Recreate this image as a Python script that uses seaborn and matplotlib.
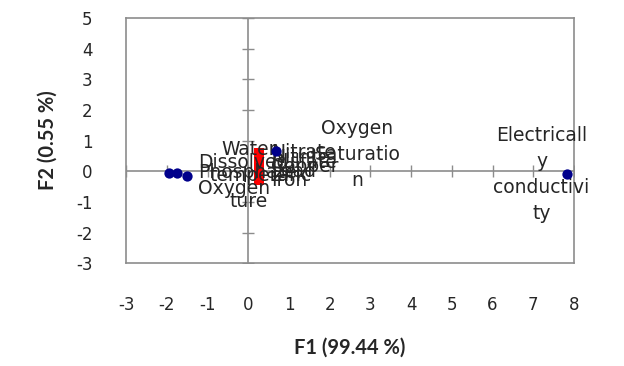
import matplotlib
matplotlib.use("Agg")
import matplotlib.pyplot as plt
import seaborn as sns
import pandas as pd

# active variables (blue) and supplementary variables (red)
active_names = ["Dissolved\nOxygen", "Phosphate", "pH", "Oxygen\nSaturatio\nn", "Electricall\ny\nconductivi\nty"]
active_f1 = [-1.5, -1.75, -1.95, 0.69, 7.82]
active_f2 = [-0.15, -0.05, -0.05, 0.65, -0.1]

supp_names = ["Nitrate", "Nitrite", "Sulfate", "Copper", "Lead", "Zinc", "Iron"]
supp_f1 = [0.27, 0.27, 0.27, 0.27, 0.27, 0.27, 0.27]
supp_f2 = [0.6, 0.45, 0.3, 0.15, 0.0, -0.15, -0.3]

x_ticks = [-3, -2, -1, 0, 1, 2, 3, 4, 5, 6, 7, 8]
y_ticks = [-3, -2, -1, 0, 1, 2, 3, 4, 5]

sns.set_style("white")
plt.rcParams["font.family"] = ["Lato", "DejaVu Sans"]
plt.rcParams["axes.unicode_minus"] = False

df = pd.DataFrame({
    "F1": active_f1 + supp_f1,
    "F2": active_f2 + supp_f2,
    "grupo": ["active"] * len(active_f1) + ["supp"] * len(supp_f1),
})

fig = plt.figure(figsize=(6.24, 3.66), dpi=100)
ax = fig.add_axes([0.202, 0.281, 0.718, 0.670])

grey = "#8c8c8c"
ax.axhline(0, color=grey, lw=1.2, zorder=1)
ax.axvline(0, color=grey, lw=1.2, zorder=1)
# cross tick marks along the zero lines
ax.plot(x_ticks, [0] * len(x_ticks), ls="none", marker="|", ms=9, mew=1.0, color=grey, zorder=1)
ax.plot([0] * len(y_ticks), y_ticks, ls="none", marker="_", ms=9, mew=1.0, color=grey, zorder=1)

sns.scatterplot(data=df[df.grupo == "supp"], x="F1", y="F2", ax=ax, marker="s",
                color="#ff0000", s=55, edgecolor="#ff0000", linewidth=0, zorder=3)
sns.scatterplot(data=df[df.grupo == "active"], x="F1", y="F2", ax=ax, marker="o",
                color="#00008b", s=55, edgecolor="#00008b", linewidth=0, zorder=4)

lab = dict(fontsize=13.5, color="#262626", family=["DejaVu Sans"], linespacing=1.47)
# labels for the active variables
ax.text(active_f1[0] + 0.27, active_f2[0], active_names[0], ha="left", va="center", **lab)
ax.text(active_f1[1] + 0.52, active_f2[1], active_names[1], ha="left", va="center", **lab)
ax.text(0.02, -0.15, "Water\ntempera\nture", ha="center", va="center", **lab)
ax.text(2.68, 0.55, active_names[3], ha="center", va="center", **lab)
ax.text(7.2, -0.1, active_names[4], ha="center", va="center", **lab)
for n, x, y in zip(supp_names, supp_f1, supp_f2):
    ax.text(x + 0.3, y, n, ha="left", va="center", **lab)

ax.set_xlim(-3, 8)
ax.set_ylim(-3, 5)
ax.set_xticks(x_ticks)
ax.set_yticks(y_ticks)
ax.set_xticklabels([str(t) for t in x_ticks], family=["DejaVu Sans"])
ax.set_yticklabels([str(t) for t in y_ticks], family=["DejaVu Sans"])
ax.tick_params(axis="both", length=0, labelsize=12, colors="#262626")
ax.tick_params(axis="x", pad=24)
ax.tick_params(axis="y", pad=24)
for s in ax.spines.values():
    s.set_color(grey)
    s.set_linewidth(1.2)

ax.set_xlabel("F1 (99.44 %)", fontsize=14.5, fontweight="bold", labelpad=17, color="#262626")
ax.set_ylabel("F2 (0.55 %)", fontsize=14.5, fontweight="bold", labelpad=13, color="#262626")

fig.savefig("out.png", dpi=100)
